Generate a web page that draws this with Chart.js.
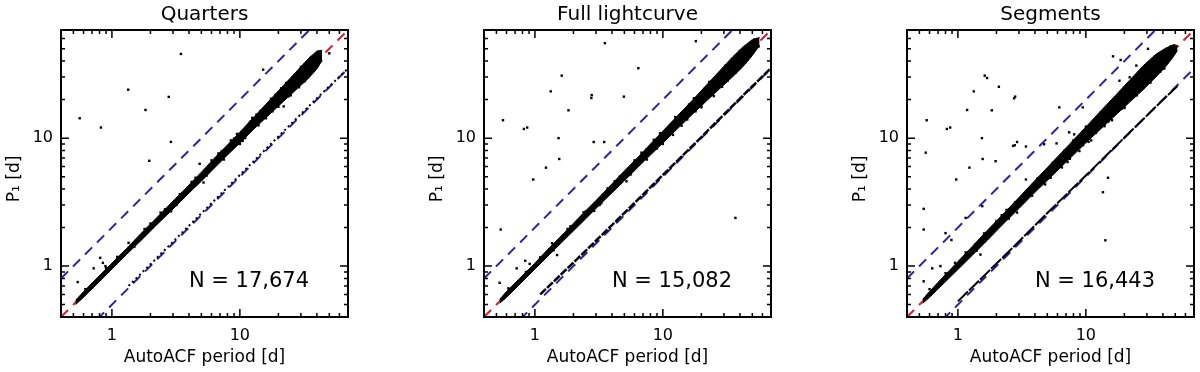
<!DOCTYPE html>
<html>
<head>
<meta charset="utf-8">
<script src="https://cdn.jsdelivr.net/npm/chart.js@4.4.1/dist/chart.umd.min.js"></script>
<style>
  html, body { margin: 0; padding: 0; background: #fff; overflow: hidden; }
  #wrap { position: relative; width: 1200px; height: 372px; }
  canvas { position: absolute; top: 0; }
</style>
</head>
<body>
<div id="wrap">
  <canvas id="c0" width="354" height="372" style="left:0px"></canvas>
  <canvas id="c1" width="354" height="372" style="left:423px"></canvas>
  <canvas id="c2" width="354" height="372" style="left:846px"></canvas>
</div>
<script>
// axis ticks (both axes are the same log range)
const majorTicks = [1, 10];
const minorTicks = [0.5, 0.6, 0.7, 0.8, 0.9, 2, 3, 4, 5, 6, 7, 8, 9, 20, 30, 40, 50, 60];

// reference lines: y = x, y = 2x, y = x/2
const refX = [0.4, 70];
const refEqualY = [0.4, 70];
const refDoubleY = [0.8, 140];
const refHalfY = [0.2, 35];

// Quarters
const qBandX = [0.52, 0.6, 0.75, 1, 1.3, 1.7, 2.2, 3, 4, 5, 6.5, 8, 10, 13, 17, 22, 28, 34, 40, 44];
const qBandHi = [0.54, 0.631, 0.791, 1.055, 1.372, 1.812, 2.345, 3.22, 4.3, 5.42, 7.19, 8.84, 11.15, 14.76, 19.66, 25.9, 33.56, 41.5, 47.9, 48.7];
const qBandLo = [0.5, 0.57, 0.711, 0.948, 1.232, 1.595, 2.064, 2.79, 3.72, 4.61, 6.0, 7.39, 9.15, 11.91, 15.29, 19.45, 24.3, 29.0, 34.7, 40.7];
const qLowX = [1.35, 2.5, 5, 10, 20, 40, 70];
const qLowY = [0.7, 1.29, 2.58, 5.15, 10.3, 20.5, 35];
const qDotX = [3.46, 0.56, 1.34, 0.82, 2.78, 1.83, 2.89, 1.96, 0.54, 0.72, 0.81, 0.85, 0.89, 1.35, 4.85, 15.2, 22, 50,
  0.62, 0.7, 0.9, 1.1, 1.5, 2.0, 2.6, 3.4, 4.5, 5.5, 7.2, 9, 11, 12, 14.5, 16, 19, 24, 26, 31, 33, 38, 42,
  18, 21, 27, 29, 35, 37, 41, 43, 8.5, 6, 10.5, 13.5, 3.2, 1.8,
  2.4, 2.9, 4.2, 5.2, 6.8, 7.5, 9.5, 10, 12.5, 14, 17.5, 20, 23, 25, 30, 32, 36, 39];
const qDotY = [45.5, 14.3, 23.9, 12.1, 21, 16.6, 9.35, 6.65, 0.75, 0.96, 1.16, 1.06, 1.0, 1.52, 6.3, 34.3, 17.7, 46,
  0.66, 0.68, 0.97, 1.18, 1.42, 2.15, 2.78, 3.65, 4.9, 5.1, 7.85, 9.9, 10.0, 13.4, 16.3, 14.3, 21.8, 21.2, 30, 28, 38, 43, 39.5,
  16.2, 24.5, 31.5, 25, 40.5, 33.5, 47, 40, 9.6, 6.7, 9.5, 15.3, 3.0, 1.95,
  2.62, 2.68, 4.55, 4.5, 7.6, 6.8, 10.8, 9.0, 14.4, 12.6, 20.3, 17.6, 27, 21.6, 36, 27.8, 43, 35];

// Full lightcurve
const fBandX = [0.53, 0.6, 0.75, 1, 1.3, 1.7, 2.2, 3, 4, 5, 6.5, 8, 10, 13, 17, 22, 28, 35, 42, 50, 57];
const fBandHi = [0.549, 0.633, 0.791, 1.055, 1.395, 1.821, 2.384, 3.254, 4.39, 5.547, 7.22, 9.0, 11.35, 14.94, 19.73, 26.08, 33.84, 43.06, 51.4, 58.85, 61.2];
const fBandLo = [0.512, 0.569, 0.711, 0.948, 1.23, 1.606, 2.067, 2.821, 3.736, 4.634, 6.033, 7.38, 9.16, 11.84, 15.34, 19.58, 24.51, 30.1, 35.95, 44.2, 53.1];
const fLowX = [1.1, 2.5, 5, 10, 20, 40, 70];
const fLowY = [0.6, 1.32, 2.6, 5.15, 10.2, 20.4, 35.3];
const fDotX = [3.52, 6.43, 1.62, 1.33, 2.78, 2.76, 4.96, 1.83, 0.563, 0.82, 0.87, 1.53, 2.88, 3.48, 1.55, 1.22, 0.97, 0.54, 36.9, 18.1, 0.72, 0.53, 1.49, 0.84, 0.91, 1.36,
  0.62, 0.85, 1.1, 1.4, 1.9, 2.5, 3.3, 3.7, 4.6, 5.6, 7.4, 9, 11.5, 14, 15.5, 19, 20, 25, 30, 33, 38, 45, 48, 55,
  18, 21, 27, 29, 35, 37, 41, 44, 52, 56, 8.5, 6, 12, 16, 3.2, 1.8,
  2.4, 2.9, 4.2, 5.2, 6.8, 7.5, 9.5, 10, 12.5, 14, 17.5, 20, 23, 25, 31, 32, 40, 46];
const fDotY = [55.2, 35.2, 30.8, 23.2, 21.7, 20.6, 21.1, 16.5, 13.8, 11.8, 12.1, 10.0, 9.33, 9.33, 6.87, 5.88, 4.75, 1.93, 2.38, 57.3, 0.96, 0.74, 1.22, 1.1, 1.04, 1.51,
  0.67, 0.9, 1.17, 1.33, 2.05, 2.68, 3.1, 4.05, 5.0, 5.2, 8.1, 8.3, 12.7, 15.6, 14, 21.5, 18, 28.8, 27, 37.5, 44, 41, 54, 58,
  16.2, 24.2, 31.5, 25.2, 41.5, 32.5, 48.5, 39, 59, 52, 9.7, 6.7, 10.6, 18.3, 3.0, 1.95,
  2.63, 2.7, 4.6, 4.6, 7.7, 6.8, 10.9, 9.0, 14.6, 12.5, 20.5, 17.4, 27.5, 21.3, 37, 28, 48, 41];

// Segments
const sBandX = [0.53, 0.6, 0.75, 1, 1.3, 1.7, 2.2, 3, 4, 5, 6.5, 8, 10, 13, 17, 22, 28, 35, 42, 48, 52];
const sBandHi = [0.549, 0.633, 0.804, 1.085, 1.431, 1.904, 2.483, 3.433, 4.675, 5.896, 7.768, 9.667, 12.23, 16.22, 21.53, 28.38, 36.7, 45.0, 50.5, 53.5, 53];
const sBandLo = [0.512, 0.569, 0.709, 0.94, 1.218, 1.591, 2.075, 2.817, 3.774, 4.675, 6.041, 7.386, 9.185, 11.74, 15.05, 19.13, 23.87, 29.84, 36.1, 42.9, 48.4];
const sLowX = [1.0, 2.5, 5, 10, 20, 40, 52];
const sLowY = [0.53, 1.3, 2.6, 5.1, 10.1, 19.9, 25.5];
const sDotX = [1.62, 1.69, 2.09, 1.33, 2.8, 2.75, 1.18, 1.84, 0.57, 0.82, 0.87, 1.54, 2.9, 2.78, 3.4, 5.9, 0.56, 1.56, 1.97, 1.23,
  0.97, 3.4, 6.2, 9.46, 18.7, 16.3, 0.54, 0.54, 0.54, 14.9, 13.6, 14.2, 0.8, 0.89, 1.5, 0.63, 0.73, 2.7, 4.72, 1.15,
  1.55, 1.37, 24.8, 22, 18.3, 30.6, 7.4, 8.1, 8.9,
  0.6, 0.8, 0.95, 1.15, 1.4, 1.6, 2.0, 2.5, 2.8, 3.5, 3.8, 4.5, 5.3, 6, 7, 7.5, 9, 9.5, 11, 12,
  14, 15, 18, 19, 23, 24, 27, 30, 33, 36, 40, 44, 46,
  17, 20, 26, 28, 34, 38, 42, 47, 49, 8, 10, 11, 5.5, 6.5, 3.3, 2.2, 13, 16,
  2.4, 2.9, 4.2, 4.8, 6.8, 7.2, 9.5, 10.5, 12.5, 14, 17.5, 20, 23, 25, 31, 32, 39, 41];
const sDotY = [30.8, 29.5, 25.2, 23.2, 21.1, 20.5, 16.6, 16.5, 13.8, 11.8, 12.1, 10, 9.33, 8.8, 8.6, 9.1, 7.7, 6.87, 6.6, 5.88,
  4.75, 4.75, 17.4, 17.4, 40.8, 43.6, 2.8, 1.93, 0.76, 4.9, 3.78, 1.59, 1.81, 1.6, 1.23, 0.96, 1.0, 8.7, 8.96, 2.38,
  2.94, 1.47, 36.9, 29.9, 28.1, 49.9, 11.1, 10.7, 7.93,
  0.66, 0.88, 1.06, 1.28, 1.32, 1.8, 2.25, 2.35, 3.15, 3.85, 3.55, 5.1, 4.9, 6.8, 7.9, 6.9, 10.6, 8.8, 12.9, 11,
  16.3, 13.5, 21.5, 17, 27.5, 21.5, 33, 27.5, 39, 33, 46, 41, 52,
  20.8, 17.2, 31.5, 24.5, 41, 33, 49, 44, 53, 9.6, 12.3, 9.6, 6.4, 5.9, 3.7, 2.5, 15.8, 13.8,
  2.75, 2.62, 4.85, 4.35, 7.95, 6.5, 11.3, 9.35, 14.9, 12.4, 21.3, 17.5, 28.6, 21.6, 38, 27.2, 47, 35];

const FONT = '"DejaVu Sans", sans-serif';
const BLUE = '#2a22a0';
const RED = '#d42030';

Chart.defaults.font.family = FONT;
Chart.defaults.color = '#000';

function pts(xs, ys) {
  return xs.map((v, i) => ({ x: v, y: ys[i] }));
}

// box, inward ticks on all four sides and the N label
const framePlugin = {
  id: 'frame',
  afterDatasetsDraw(chart, args, opts) {
    const { ctx, chartArea: a, scales: { x, y } } = chart;
    ctx.save();
    ctx.strokeStyle = '#000';
    ctx.lineWidth = 1.5;
    ctx.beginPath();
    majorTicks.concat(minorTicks).forEach(v => {
      const len = majorTicks.includes(v) ? 8 : 4;
      const px = x.getPixelForValue(v);
      const py = y.getPixelForValue(v);
      ctx.moveTo(px, a.bottom); ctx.lineTo(px, a.bottom - len);
      ctx.moveTo(px, a.top); ctx.lineTo(px, a.top + len);
      ctx.moveTo(a.left, py); ctx.lineTo(a.left + len, py);
      ctx.moveTo(a.right, py); ctx.lineTo(a.right - len, py);
    });
    ctx.stroke();
    ctx.lineWidth = 2;
    ctx.strokeRect(a.left, a.top, a.width, a.height);

    ctx.fillStyle = '#000';
    ctx.font = '21px ' + FONT;
    ctx.textAlign = 'left';
    ctx.textBaseline = 'middle';
    ctx.fillText(opts.label, x.getPixelForValue(4), y.getPixelForValue(0.757));
    ctx.restore();
  }
};

function makeChart(id, title, label, bandX, bandHi, bandLo, lowX, lowY, dotX, dotY, lowDash, lowWidth) {
  const axis = (titleText, isX) => ({
    type: 'logarithmic',
    min: 0.4,
    max: 70,
    afterBuildTicks: s => { s.ticks = majorTicks.map(v => ({ value: v })); },
    afterFit: s => { if (isX) s.height = 55; else s.width = 61; },
    grid: { display: false, drawTicks: false },
    border: { display: false },
    ticks: {
      font: { size: 16 },
      color: '#000',
      padding: isX ? 9 : 8,
      maxRotation: 0,
      autoSkip: false,
      callback: v => String(v)
    },
    title: {
      display: true,
      text: titleText,
      font: { size: 17 },
      color: '#000',
      padding: isX ? { top: 0, bottom: 4 } : { top: 4, bottom: 0 }
    }
  });

  return new Chart(document.getElementById(id), {
    type: 'line',
    data: {
      datasets: [
        { data: pts(dotX, dotY), showLine: false, pointStyle: 'rect', pointRadius: 1.7,
          pointBackgroundColor: '#000', pointBorderWidth: 0, order: 1 },
        { data: pts(bandX, bandHi), borderColor: '#000', borderWidth: 1, pointRadius: 0, fill: false, order: 2 },
        { data: pts(bandX, bandLo), borderColor: '#000', borderWidth: 1, pointRadius: 0,
          fill: '-1', backgroundColor: '#000', order: 2 },
        { data: pts(lowX, lowY), borderColor: '#000', borderWidth: lowWidth, borderDash: lowDash, pointRadius: 0, order: 3 },
        { data: pts(refX, refDoubleY), borderColor: BLUE, borderWidth: 2, borderDash: [10, 7], pointRadius: 0, order: 4 },
        { data: pts(refX, refHalfY), borderColor: BLUE, borderWidth: 2, borderDash: [10, 7], pointRadius: 0, order: 4 },
        { data: pts(refX, refEqualY), borderColor: RED, borderWidth: 2, borderDash: [10, 7], pointRadius: 0, order: 5 }
      ]
    },
    options: {
      responsive: false,
      devicePixelRatio: 1,
      animation: false,
      events: [],
      layout: { padding: { top: 0, right: 6, bottom: 0, left: 0 } },
      scales: {
        x: axis('AutoACF period [d]', true),
        y: axis('P\u2081 [d]  ', false)
      },
      plugins: {
        legend: { display: false },
        tooltip: { enabled: false },
        title: {
          display: true,
          text: title,
          fullSize: false,
          color: '#000',
          font: { size: 20, weight: 'normal' },
          padding: { top: 3, bottom: 3 }
        },
        frame: { label: label }
      }
    },
    plugins: [framePlugin]
  });
}

makeChart('c0', 'Quarters', 'N = 17,674', qBandX, qBandHi, qBandLo, qLowX, qLowY, qDotX, qDotY, [2, 3], 2);
makeChart('c1', 'Full lightcurve', 'N = 15,082', fBandX, fBandHi, fBandLo, fLowX, fLowY, fDotX, fDotY, [8, 1.5], 2.5);
makeChart('c2', 'Segments', 'N = 16,443', sBandX, sBandHi, sBandLo, sLowX, sLowY, sDotX, sDotY, [14, 1.5], 2);
</script>
</body>
</html>
